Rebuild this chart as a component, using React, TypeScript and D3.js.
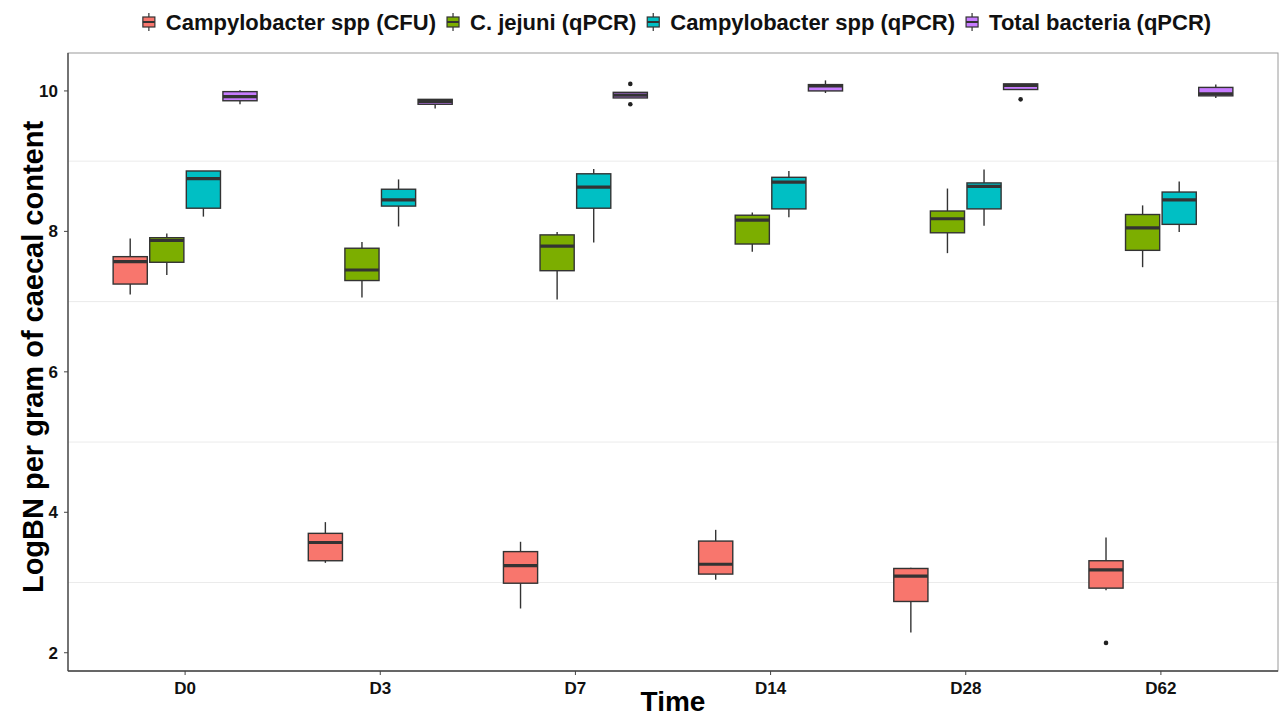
import React, { useRef, useEffect } from 'react';
import * as d3 from 'd3';

// Time points on the x axis
const TIMES = ['D0', 'D3', 'D7', 'D14', 'D28', 'D62'];

// Series (legend order)
const SERIES = [
  'Campylobacter spp (CFU)',
  'C. jejuni (qPCR)',
  'Campylobacter spp (qPCR)',
  'Total bacteria (qPCR)'
];

const SERIES_COLORS = ['#F8766D', '#7CAE00', '#00BFC4', '#C77CFF'];

// box stats per time: [lower whisker, q1, median, q3, upper whisker]
const cfuStats = [
  [7.10, 7.25, 7.57, 7.64, 7.90],
  [3.28, 3.31, 3.57, 3.70, 3.86],
  [2.63, 2.99, 3.24, 3.44, 3.58],
  [3.04, 3.12, 3.26, 3.59, 3.75],
  [2.29, 2.73, 3.09, 3.20, 3.21],
  [2.89, 2.92, 3.18, 3.31, 3.64]
];
const jejuniStats = [
  [7.38, 7.56, 7.87, 7.91, 7.97],
  [7.06, 7.30, 7.45, 7.76, 7.85],
  [7.03, 7.44, 7.79, 7.95, 7.99],
  [7.71, 7.82, 8.16, 8.23, 8.27],
  [7.69, 7.98, 8.18, 8.29, 8.61],
  [7.49, 7.73, 8.05, 8.24, 8.37]
];
const campyStats = [
  [8.21, 8.33, 8.75, 8.86, 8.86],
  [8.07, 8.36, 8.45, 8.60, 8.74],
  [7.84, 8.33, 8.63, 8.82, 8.89],
  [8.20, 8.32, 8.70, 8.77, 8.86],
  [8.08, 8.32, 8.64, 8.69, 8.88],
  [7.99, 8.10, 8.45, 8.56, 8.71]
];
const totalStats = [
  [9.81, 9.86, 9.92, 9.99, 10.01],
  [9.75, 9.81, 9.85, 9.88, 9.88],
  [9.90, 9.90, 9.94, 9.98, 9.98],
  [9.97, 10.00, 10.07, 10.09, 10.15],
  [10.02, 10.02, 10.08, 10.10, 10.10],
  [9.90, 9.93, 9.96, 10.05, 10.09]
];

// outliers per time, for each series
const cfuOutliers = [[], [], [], [], [], [2.14]];
const jejuniOutliers = [[], [], [], [], [], []];
const campyOutliers = [[], [], [], [], [], []];
const totalOutliers = [[], [], [10.10, 9.81], [], [9.88], []];

const Y_TICKS = [2, 4, 6, 8, 10];
const Y_MINOR = [3, 5, 7, 9];

const ALL_STATS = [cfuStats, jejuniStats, campyStats, totalStats];
const ALL_OUTLIERS = [cfuOutliers, jejuniOutliers, campyOutliers, totalOutliers];

const W = 1284;
const H = 719;
const FONT = 'Liberation Sans, Arial, sans-serif';

const App: React.FC = () => {
  const ref = useRef<SVGSVGElement>(null);

  useEffect(() => {
    if (!ref.current) return;
    const svg = d3.select(ref.current);
    svg.selectAll('*').remove();

    const margin = { top: 53, right: 6, bottom: 48, left: 68 };
    const width = W - margin.left - margin.right;
    const height = H - margin.top - margin.bottom;

    const g = svg.append('g').attr('transform', `translate(${margin.left},${margin.top})`);

    // discrete x like ggplot (0.6 expansion each side)
    const xPos = d3.scaleLinear().domain([0.4, TIMES.length + 0.6]).range([0, width]);
    const unit = xPos(2) - xPos(1);
    const slot = (0.75 * unit) / SERIES.length;
    const boxW = (0.7 * unit) / SERIES.length;

    const y = d3.scaleLinear().domain([1.74, 10.54]).range([height, 0]);

    // minor grid
    g.selectAll('.minor')
      .data(Y_MINOR)
      .enter()
      .append('line')
      .attr('x1', 0)
      .attr('x2', width)
      .attr('y1', d => y(d))
      .attr('y2', d => y(d))
      .attr('stroke', '#ebebeb')
      .attr('stroke-width', 1);

    // panel border
    g.append('rect')
      .attr('width', width)
      .attr('height', height)
      .attr('fill', 'none')
      .attr('stroke', '#9a9a9a')
      .attr('stroke-width', 1);

    // boxes
    ALL_STATS.forEach((stats, si) => {
      stats.forEach((s, ti) => {
        const [lo, q1, med, q3, hi] = s;
        const cx = xPos(ti + 1) + (si - (SERIES.length - 1) / 2) * slot;
        const bg = g.append('g');
        bg.append('line')
          .attr('x1', cx).attr('x2', cx)
          .attr('y1', y(hi)).attr('y2', y(q3))
          .attr('stroke', '#333').attr('stroke-width', 1.4);
        bg.append('line')
          .attr('x1', cx).attr('x2', cx)
          .attr('y1', y(q1)).attr('y2', y(lo))
          .attr('stroke', '#333').attr('stroke-width', 1.4);
        bg.append('rect')
          .attr('x', cx - boxW / 2)
          .attr('y', y(q3))
          .attr('width', boxW)
          .attr('height', Math.max(0.5, y(q1) - y(q3)))
          .attr('fill', SERIES_COLORS[si])
          .attr('stroke', '#333')
          .attr('stroke-width', 1.4);
        bg.append('line')
          .attr('x1', cx - boxW / 2).attr('x2', cx + boxW / 2)
          .attr('y1', y(med)).attr('y2', y(med))
          .attr('stroke', '#333').attr('stroke-width', 3.2);
        ALL_OUTLIERS[si][ti].forEach(o => {
          bg.append('circle')
            .attr('cx', cx).attr('cy', y(o)).attr('r', 2.3)
            .attr('fill', '#222');
        });
      });
    });

    // axis lines
    g.append('line').attr('x1', 0).attr('x2', 0).attr('y1', 0).attr('y2', height)
      .attr('stroke', '#444').attr('stroke-width', 1.3);
    g.append('line').attr('x1', 0).attr('x2', width).attr('y1', height).attr('y2', height)
      .attr('stroke', '#444').attr('stroke-width', 1.3);

    // y ticks
    const yt = g.selectAll('.ytick').data(Y_TICKS).enter().append('g')
      .attr('transform', d => `translate(0,${y(d)})`);
    yt.append('line').attr('x1', -4).attr('x2', 0).attr('stroke', '#444').attr('stroke-width', 1);
    yt.append('text')
      .attr('x', -10).attr('dy', '0.35em')
      .attr('text-anchor', 'end')
      .attr('font-family', FONT).attr('font-weight', 'bold').attr('font-size', 17)
      .attr('fill', '#111')
      .text(d => d);

    // x ticks
    const xt = g.selectAll('.xtick').data(TIMES).enter().append('g')
      .attr('transform', (d, i) => `translate(${xPos(i + 1)},${height})`);
    xt.append('line').attr('y1', 0).attr('y2', 4).attr('stroke', '#444').attr('stroke-width', 1);
    xt.append('text')
      .attr('y', 23)
      .attr('text-anchor', 'middle')
      .attr('font-family', FONT).attr('font-weight', 'bold').attr('font-size', 17)
      .attr('fill', '#111')
      .text(d => d);

    // axis titles
    svg.append('text')
      .attr('x', margin.left + width / 2)
      .attr('y', 711)
      .attr('text-anchor', 'middle')
      .attr('font-family', FONT).attr('font-weight', 'bold').attr('font-size', 28)
      .attr('fill', '#000')
      .text('Time');
    svg.append('text')
      .attr('transform', `translate(43,${margin.top + height / 2 - 5}) rotate(-90)`)
      .attr('text-anchor', 'middle')
      .attr('font-family', FONT).attr('font-weight', 'bold').attr('font-size', 29)
      .attr('fill', '#000')
      .text('LogBN per gram of caecal content');

    // legend (top, centred over the panel)
    const legend = svg.append('g');
    let lx = 0;
    const keyW = 12;
    SERIES.forEach((name, i) => {
      const item = legend.append('g').attr('transform', `translate(${lx},0)`);
      item.append('line').attr('x1', keyW / 2).attr('x2', keyW / 2).attr('y1', -9).attr('y2', 9)
        .attr('stroke', '#333').attr('stroke-width', 1.2);
      item.append('rect').attr('x', 0).attr('y', -5).attr('width', keyW).attr('height', 10)
        .attr('fill', SERIES_COLORS[i]).attr('stroke', '#333').attr('stroke-width', 1.2);
      item.append('line').attr('x1', 0).attr('x2', keyW).attr('y1', 0).attr('y2', 0)
        .attr('stroke', '#333').attr('stroke-width', 2);
      const t = item.append('text')
        .attr('x', keyW + 11).attr('dy', '0.36em')
        .attr('font-family', FONT).attr('font-weight', 'bold').attr('font-size', 22)
        .attr('fill', '#111')
        .text(name);
      const tw = (t.node() as SVGTextElement).getComputedTextLength();
      lx += keyW + 11 + tw + 11;
    });
    const totalW = lx - 11;
    legend.attr('transform', `translate(${677 - totalW / 2},22)`);
  }, []);

  return (
    <svg
      ref={ref}
      width={W}
      height={H}
      style={{ position: 'absolute', left: 0, top: 0, background: '#fff', display: 'block' }}
    />
  );
};

export default App;
